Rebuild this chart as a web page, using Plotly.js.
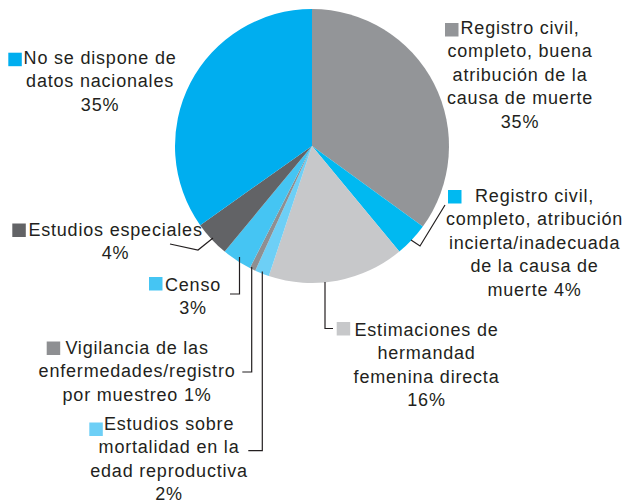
<!DOCTYPE html>
<html>
<head>
<meta charset="utf-8">
<script src="https://cdn.plot.ly/plotly-3.0.1.min.js"></script>
<style>
html,body{margin:0;padding:0;background:#fff;}
#chart{width:626px;height:503px;}
#chart .annotation-text{letter-spacing:0.8px;}
</style>
</head>
<body>
<div id="chart"></div>
<script>
// ---- data ----
const categories = [
  "Registro civil, completo, buena atribución de la causa de muerte",
  "Registro civil, completo, atribución incierta/inadecuada de la causa de muerte",
  "Estimaciones de hermandad femenina directa",
  "Estudios sobre mortalidad en la edad reproductiva",
  "Vigilancia de las enfermedades/registro por muestreo",
  "Censo",
  "Estudios especiales",
  "No se dispone de datos nacionales"
];
const values = [35, 4, 16.1, 1.7, 0.7, 3.5, 4.2, 34.8];
const labelTexts = [
  "Registro civil,<br>completo, buena<br>atribución de la<br>causa de muerte<br>35%",
  "Registro civil,<br>completo, atribución<br>incierta/inadecuada<br>de la causa de<br>muerte 4%",
  "Estimaciones de<br>hermandad<br>femenina directa<br>16%",
  "Estudios sobre<br>mortalidad en la<br>edad reproductiva<br>2%",
  "Vigilancia de las<br>enfermedades/registro<br>por muestreo 1%",
  "Censo<br>3%",
  "Estudios especiales<br>4%",
  "No se dispone de<br>datos nacionales<br>35%"
];
const colors = ["#939598", "#00B9F1", "#C7C8CA", "#6DCFF6", "#8E8F92", "#45C5F3", "#626366", "#00AEEF"];

// ---- layout helpers (pixel -> paper) ----
const W = 626, H = 503;
const px = x => x / W;
const py = y => 1 - y / H;
const cx = 312, cy = 146, r = 137;

// label centres [x, y] in pixels, same order as categories
const labelPos = [[520, 75], [534, 242.5], [427, 365], [170, 459], [136.7, 371], [193, 296.7], [115, 242], [100, 82]];
// swatch top-left in pixels
const swatchPos = [[445, 23], [448, 190], [336.7, 322], [89.3, 422.5], [46.7, 341.5], [149, 277], [12.3, 223.5], [8.3, 52.7]];
const sw = 13.5;
// leader polylines in pixels (null = none)
const leaders = [
  null,
  [[411, 240], [420, 246], [445, 205]],
  [[325, 282], [325, 328.5], [333, 328.5]],
  [[262.3, 271.5], [262.3, 450.7], [248.3, 450.7]],
  [[251.7, 267], [251.7, 372], [242.3, 372]],
  [[239.5, 257], [239.5, 294], [230, 294]],
  [[170, 244], [198, 250], [213, 238]],
  null
];

const trace = {
  type: "pie",
  labels: categories,
  values: values,
  sort: false,
  direction: "clockwise",
  rotation: 0,
  textinfo: "none",
  hoverinfo: "label+percent",
  marker: {colors: colors, line: {width: 0}},
  domain: {x: [px(cx - r), px(cx + r)], y: [py(cy + r), py(cy - r)]},
  showlegend: false
};

const annotations = labelTexts.map((t, i) => ({
  xref: "paper", yref: "paper",
  x: px(labelPos[i][0]), y: py(labelPos[i][1]),
  xanchor: "center", yanchor: "middle",
  text: t, showarrow: false, align: "center",
  font: {family: "Liberation Sans, Arial, sans-serif", size: 18, color: "#231F20"}
}));

const shapes = [];
swatchPos.forEach((p, i) => {
  shapes.push({type: "rect", xref: "paper", yref: "paper",
    x0: px(p[0]), x1: px(p[0] + sw), y0: py(p[1] + sw), y1: py(p[1]),
    fillcolor: colors[i], line: {width: 0}});
});
leaders.forEach(l => {
  if (!l) return;
  const d = l.map((p, k) => (k ? "L" : "M") + px(p[0]) + "," + py(p[1])).join(" ");
  shapes.push({type: "path", xref: "paper", yref: "paper", path: d,
    line: {color: "#231F20", width: 1.2}});
});

Plotly.newPlot("chart", [trace], {
  width: W, height: H,
  margin: {l: 0, r: 0, t: 0, b: 0},
  paper_bgcolor: "#fff",
  annotations: annotations,
  shapes: shapes
}, {displayModeBar: false, staticPlot: true});
</script>
</body>
</html>
